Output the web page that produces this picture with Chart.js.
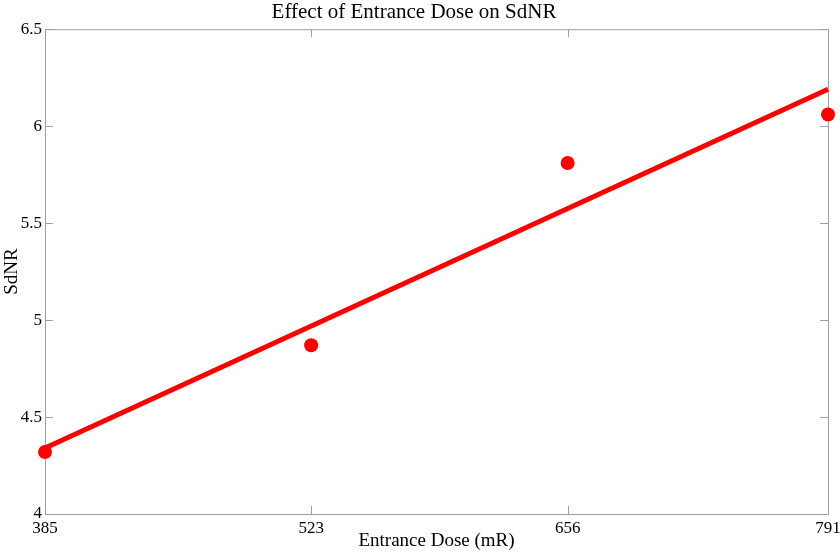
<!DOCTYPE html>
<html>
<head>
<meta charset="utf-8">
<script src="https://cdn.jsdelivr.net/npm/chart.js@4.4.1/dist/chart.umd.min.js"></script>
<style>
html, body { margin: 0; padding: 0; background: #fff; }
#wrap { width: 840px; height: 555px; }
</style>
</head>
<body>
<div id="wrap"><canvas id="myChart" width="840" height="555"></canvas></div>
<script>
// values
const doseTicks = [385, 523, 656, 791];
const sdnrTicks = [4, 4.5, 5, 5.5, 6, 6.5];
const doses = [385, 523, 656, 791];
const sdnr = [4.32, 4.87, 5.81, 6.06];
const fitDoses = [385, 791];
const fitSdnr = [4.34, 6.19];

const serif = '"Liberation Serif", "Times New Roman", serif';
const axisGrey = '#a0a0a0';

// matlab style box with inward ticks on all four sides
const boxPlugin = {
  id: 'box',
  beforeDatasetsDraw(chart) {
    const { ctx, chartArea: a, scales: { x, y } } = chart;
    const len = 8;
    ctx.save();
    ctx.strokeStyle = axisGrey;
    ctx.lineWidth = 1;
    ctx.strokeRect(a.left + 0.5, a.top + 0.5, a.right - a.left, a.bottom - a.top);
    ctx.beginPath();
    x.ticks.forEach(t => {
      const px = Math.round(x.getPixelForValue(t.value)) + 0.5;
      ctx.moveTo(px, a.bottom); ctx.lineTo(px, a.bottom - len);
      ctx.moveTo(px, a.top); ctx.lineTo(px, a.top + len);
    });
    y.ticks.forEach(t => {
      const py = Math.round(y.getPixelForValue(t.value)) + 0.5;
      ctx.moveTo(a.left, py); ctx.lineTo(a.left + len, py);
      ctx.moveTo(a.right, py); ctx.lineTo(a.right - len, py);
    });
    ctx.stroke();
    ctx.restore();
  }
};

const ctx = document.getElementById('myChart').getContext('2d');
const myChart = new Chart(ctx, {
  type: 'scatter',
  data: {
    datasets: [{
      label: 'fit',
      data: fitDoses.map((d, i) => ({ x: d, y: fitSdnr[i] })),
      showLine: true,
      borderColor: '#ff0000',
      borderWidth: 5,
      pointRadius: 0,
      clip: false
    }, {
      label: 'SdNR',
      data: doses.map((d, i) => ({ x: d, y: sdnr[i] })),
      backgroundColor: '#ff0000',
      borderWidth: 0,
      pointRadius: 7,
      clip: false
    }]
  },
  options: {
    responsive: false,
    animation: false,
    devicePixelRatio: 1,
    layout: { padding: { left: 0, right: 12, top: 0, bottom: 0 } },
    plugins: {
      legend: { display: false },
      tooltip: { enabled: false },
      title: {
        display: true,
        text: 'Effect of Entrance Dose on SdNR',
        color: '#000',
        font: { family: serif, size: 21, weight: 'normal' },
        padding: { top: 0, bottom: 4 }
      }
    },
    scales: {
      x: {
        type: 'linear',
        min: 385,
        max: 791,
        afterBuildTicks: s => { s.ticks = doseTicks.map(v => ({ value: v })); },
        afterFit: s => { s.height = 41; s.paddingLeft = 0; s.paddingRight = 0; },
        grid: { display: false, drawTicks: false },
        border: { display: false },
        ticks: { color: '#000', font: { family: serif, size: 17 }, padding: 4, maxRotation: 0 },
        title: {
          display: true,
          text: 'Entrance Dose (mR)',
          color: '#000',
          font: { family: serif, size: 19 },
          padding: { top: 0, bottom: 3 }
        }
      },
      y: {
        type: 'linear',
        min: 4,
        max: 6.5,
        afterBuildTicks: s => { s.ticks = sdnrTicks.map(v => ({ value: v })); },
        afterFit: s => { s.width = 45; s.paddingTop = 0; s.paddingBottom = 0; },
        grid: { display: false, drawTicks: false },
        border: { display: false },
        ticks: {
          color: '#000',
          font: { family: serif, size: 17 },
          padding: 3,
          callback: v => String(v)
        },
        title: {
          display: true,
          text: 'SdNR',
          color: '#000',
          font: { family: serif, size: 19 },
          padding: { top: 1, bottom: 0 }
        }
      }
    }
  },
  plugins: [boxPlugin]
});
</script>
</body>
</html>
